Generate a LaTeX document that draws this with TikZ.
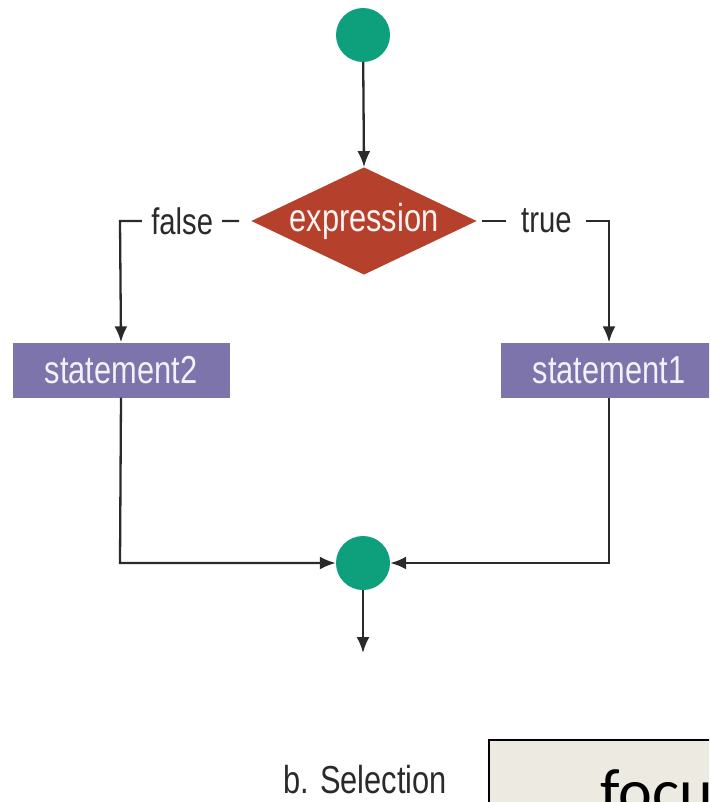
\documentclass[tikz,border=0pt]{standalone}
\usepackage{fontspec}
\usepackage{tikz}
\usetikzlibrary{shapes.geometric, arrows.meta, positioning}
\usepackage{xcolor}
\newfontfamily\condfont[FakeStretch=0.79]{Liberation Sans}
\newfontfamily\slidefont{Carlito}
\definecolor{dotGreen}{HTML}{0E9F7D}
\definecolor{exprRed}{HTML}{B5412C}
\definecolor{stmtPurple}{HTML}{7C74AB}
\definecolor{flowGray}{HTML}{2A2A2A}
\definecolor{paneBeige}{HTML}{EDEBE1}

\tikzset{
    dot/.style={circle, fill=dotGreen, minimum size=54pt, inner sep=0pt},
    decision/.style={diamond, aspect=2.1, fill=exprRed, minimum width=218pt, minimum height=104pt, inner sep=0pt,
        text=white!85!exprRed!40, font=\condfont\fontsize{39}{42}\selectfont},
    stmtbox/.style={rectangle, fill=stmtPurple, minimum width=217pt, minimum height=55pt, inner sep=0pt,
        text=white!90!stmtPurple, font=\condfont\fontsize{39}{42}\selectfont},
    flow/.style={draw=flowGray, line width=2.3pt, -{Latex[length=16pt, width=13pt]}},
    branch/.style={fill=white, minimum width=80pt, inner sep=0pt, text=flowGray,
        font=\condfont\fontsize{37}{40}\selectfont}
}

\begin{document}
\begin{tikzpicture}[x=1pt, y=-1pt]
    \clip (0,0) rectangle (709,802);

    % Nodes
    \node[dot] (start) at (363,35) {};
    \node[decision] (expr) at (364,221) {expression};
    \node[stmtbox] (stmtB) at (121,370) {statement2};
    \node[stmtbox] (stmtA) at (609,370) {statement1};
    \node[dot] (join) at (363,563) {};

    % Corners
    \coordinate (fcorner) at (120,221);
    \coordinate (tcorner) at (609,221);
    \coordinate (lcorner) at (120,563);
    \coordinate (rcorner) at (609,563);
    \coordinate (exit) at (363,653);

    % Connectors
    \draw[flow] (start) -- (expr.north);
    \draw[flow, shorten <=12pt] (expr.west) -- node[branch, pos=0.526] (flabel) {false} (fcorner) -- (stmtB.north);
    \draw[flow, shorten <=5pt] (expr.east) -- node[branch, pos=0.526] (tlabel) {true} (tcorner) -- (stmtA.north);
    \draw[flow] (stmtB.south) -- (lcorner) -- (join.west);
    \draw[flow] (stmtA.south) -- (rcorner) -- (join.east);
    \draw[flow] (join.south) -- (exit);

    % Caption
    \node[anchor=base, text=flowGray, font=\condfont\fontsize{39}{42}\selectfont] (caption) at (365,793) {b. Selection};

    % Slide box
    \draw[black, line width=1.5pt, fill=paneBeige] (489,740) rectangle (740,840);
    \node[anchor=base west, inner sep=0pt, font=\slidefont\fontsize{64}{70}\selectfont] (focus) at (600,813) {focu};
\end{tikzpicture}
\end{document}
